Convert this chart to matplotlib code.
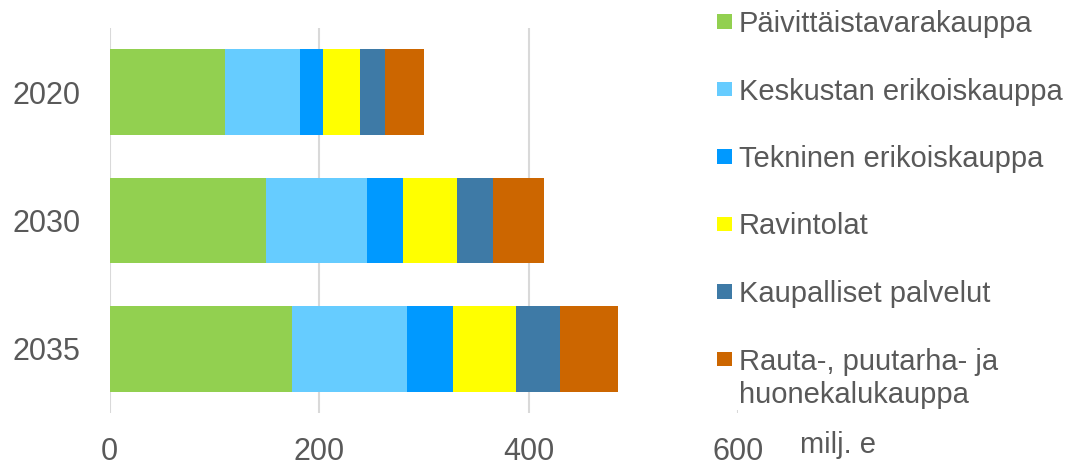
import matplotlib
matplotlib.use("Agg")
import matplotlib.pyplot as plt
from matplotlib.patches import Rectangle
import numpy as np

plt.rcParams['font.family'] = ['Liberation Sans', 'DejaVu Sans']

# Myynti toimialoittain, milj. e
years = ['2020', '2030', '2035']
series = [
    'Päivittäistavarakauppa',
    'Keskustan erikoiskauppa',
    'Tekninen erikoiskauppa',
    'Ravintolat',
    'Kaupalliset palvelut',
    'Rauta-, puutarha- ja\nhuonekalukauppa',
]
paivittaistavara = [110.5, 149.5, 174.0]
keskusta_erikois = [71.5, 96.0, 110.0]
tekninen_erikois = [22.0, 35.0, 43.5]
ravintolat = [35.0, 51.0, 61.0]
kaupalliset = [24.0, 35.0, 42.0]
rauta_puutarha = [37.5, 48.5, 54.5]

values = [paivittaistavara, keskusta_erikois, tekninen_erikois,
          ravintolat, kaupalliset, rauta_puutarha]
colors = ['#92D050', '#66CCFF', '#0099FF', '#FFFF00', '#3E7AA6', '#CC6600']
text_color = '#595959'

W, H = 1068, 463
fig = plt.figure(figsize=(W / 100, H / 100), dpi=100)
ax = fig.add_axes([109.5 / W, (H - 413) / H, (738 - 109.5) / W, 385 / H])

y = np.arange(len(years))
left = np.zeros(len(years))
for vals, col in zip(values, colors):
    ax.barh(y, vals, left=left, height=0.67, color=col, zorder=3)
    left += np.array(vals)

ax.set_xlim(0, 600)
ax.set_ylim(2.5, -0.5)
ax.set_xticks([0, 200, 400, 600])
ax.set_yticks(y)
ax.set_yticklabels(years)
ax.tick_params(axis='both', length=0, labelsize=22, labelcolor=text_color)
ax.tick_params(axis='y', pad=21)
ax.tick_params(axis='x', pad=17)
ax.grid(axis='x', color='#D9D9D9', linewidth=1.5, zorder=0)
for s in ax.spines.values():
    s.set_visible(False)

# white area behind the legend hides the 600 gridline
fig.add_artist(Rectangle((705 / W, (H - 410) / H), (W - 705) / W, 410 / H,
                         transform=fig.transFigure, facecolor='white',
                         edgecolor='none', zorder=2))

# legend, square aligned with first text line
step = 67.5
line_gap = 33.5
for i, (name, col) in enumerate(zip(series, colors)):
    cy = 21.7 + i * step
    fig.add_artist(Rectangle((717 / W, (H - cy - 7.2) / H), 14.5 / W, 14.5 / H,
                             transform=fig.transFigure, facecolor=col,
                             edgecolor='none', zorder=3))
    for j, line in enumerate(name.split('\n')):
        fig.text(739 / W, (H - cy - 10.3 - j * line_gap) / H, line,
                 fontsize=21, color=text_color, va='baseline', ha='left',
                 zorder=4)

fig.text(800 / W, (H - 453) / H, 'milj. e', fontsize=21,
         color=text_color, va='baseline', ha='left', zorder=4)

fig.savefig('out.png', dpi=100, facecolor='white')
